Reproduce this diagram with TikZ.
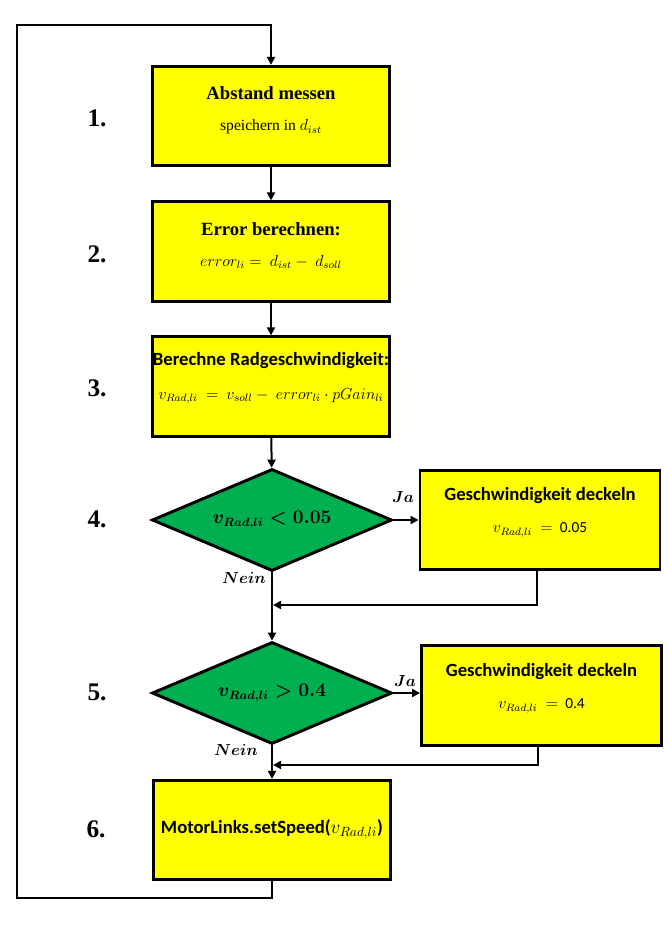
\documentclass[tikz,border=0pt]{standalone}
\usepackage{amsmath}
\usepackage{fontspec}
\setmainfont{Liberation Serif}
\newfontfamily\calfont{Carlito}
\usetikzlibrary{shapes.geometric,arrows.meta}
\definecolor{boxyellow}{HTML}{FFFF00}
\definecolor{diagreen}{HTML}{00B050}
\tikzset{
  px/.style={x=0.75pt,y=-0.75pt},
  procbox/.style={draw=black,line width=2.2pt,fill=boxyellow,minimum width=178pt,minimum height=74.5pt,inner sep=0pt},
  decbox/.style={diamond,draw=black,line width=2.2pt,fill=diagreen,minimum width=180pt,minimum height=76.5pt,inner sep=0pt,aspect=2.4},
  conn/.style={line width=1.5pt,-{Triangle[width=6pt,length=6pt]}},
  numlabel/.style={font=\fontsize{19}{22}\selectfont\bfseries},
  titleT/.style={font=\fontsize{14}{16}\selectfont\bfseries},
  titleC/.style={font=\fontsize{14}{16}\selectfont\calfont\bfseries},
  sub/.style={font=\fontsize{11.7}{14}\selectfont},
  formula/.style={font=\fontsize{11.5}{14}\selectfont},
  dtext/.style={font=\fontsize{13.3}{16}\selectfont\boldmath},
  yn/.style={font=\fontsize{12.5}{15}\selectfont\boldmath},
}
\begin{document}
\begin{tikzpicture}[px]
\useasboundingbox (0,0) rectangle (667,937);
% boxes
\node[procbox] (b1) at (271,116) {};
\node[procbox] (b2) at (271,251.5) {};
\node[procbox] (b3) at (271,386.5) {};
\node[decbox] (d1) at (272,520) {};
\node[procbox,minimum width=180pt] (g1) at (540,520) {};
\node[decbox] (d2) at (272,693) {};
\node[procbox,minimum width=180pt] (g2) at (541.5,695.5) {};
\node[procbox] (b6) at (272,830) {};
% texts
\node[titleT] (t1a) at (271,93) {Abstand messen};
\node[sub] (t1b) at (271,127) {speichern in $d_{ist}$};
\node[titleT] (t2a) at (271,229) {Error berechnen:};
\node[formula] (t2b) at (271,262) {$error_{li} =\ d_{ist} -\ d_{soll}$};
\node[titleC] (t3a) at (271,361) {Berechne Radgeschwindigkeit:};
\node[formula] (t3b) at (271,396) {$v_{Rad,li}\ =\ v_{soll} -\ error_{li}\cdot pGain_{li}$};
\node[dtext] (t4) at (272,520) {$v_{Rad,li} < 0.05$};
\node[titleC] (tg1a) at (540,496) {Geschwindigkeit deckeln};
\node[formula] (tg1b) at (540,530) {$v_{Rad,li}\ =\ $\calfont\ 0.05};
\node[dtext] (t5) at (272,693) {$v_{Rad,li} > 0.4$};
\node[titleC] (tg2a) at (541.5,672) {Geschwindigkeit deckeln};
\node[formula] (tg2b) at (541.5,706) {$v_{Rad,li}\ =\ $\calfont\ 0.4};
\node[titleC] (t6) at (272,829) {MotorLinks.setSpeed($v_{Rad,li}$)};
% numbers
\node[numlabel] (n1) at (97,118) {1.};
\node[numlabel] (n2) at (97,254) {2.};
\node[numlabel] (n3) at (97,388) {3.};
\node[numlabel] (n4) at (97,519) {4.};
\node[numlabel] (n5) at (97,692) {5.};
\node[numlabel] (n6) at (96,829) {6.};
% yes/no labels
\node[yn] (ja1) at (403,497) {$Ja$};
\node[yn] (nein1) at (244,578) {$Nein$};
\node[yn] (ja2) at (405,681) {$Ja$};
\node[yn] (nein2) at (236,750) {$Nein$};
% coordinates
\coordinate (m1) at (273,605);
\coordinate (m2) at (273,765);
\coordinate (L1) at (17,898);
\coordinate (L2) at (17,25);
% connectors
\draw[conn] (b1) -- (b2);
\draw[conn] (b2) -- (b3);
\draw[conn] (b3) -- (d1);
\draw[conn] (d1.east) -- (g1.west);
\draw[conn] (d1.south) -- (d2.north);
\draw[conn] ([xshift=-2.25pt]g1.south) |- (m1);
\draw[conn] (d2.east) -- (d2.east -| g2.west);
\draw[conn] (d2.south) -- (b6.north);
\draw[conn] ([xshift=-3pt]g2.south) |- (m2);
\draw[conn] (b6.south) |- (L1) -- (L2) -| (b1.north);
\end{tikzpicture}
\end{document}
